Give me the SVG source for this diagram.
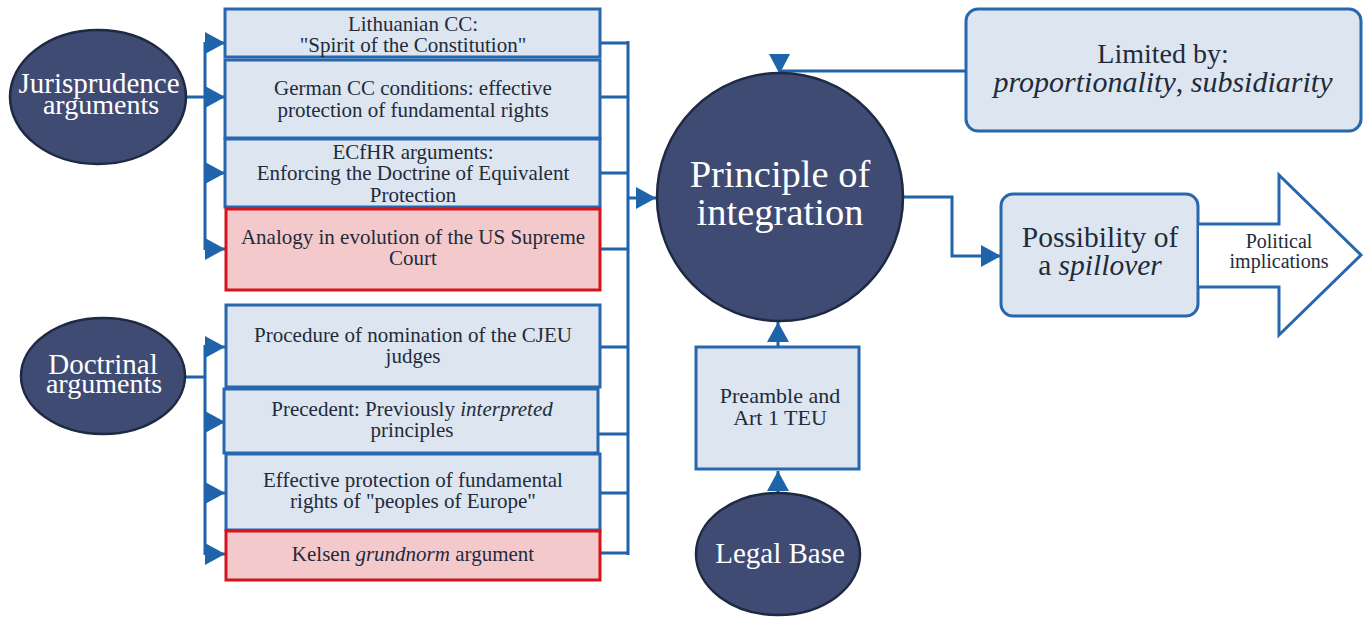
<svg xmlns="http://www.w3.org/2000/svg" width="1367" height="617" viewBox="0 0 1367 617">
<defs>
<style>
.box{fill:#DDE5F0;stroke:#2767AE;stroke-width:3}
.red{fill:#F4C9CB;stroke:#D3141C;stroke-width:3}
.dark{fill:#404B73;stroke:#1E2943;stroke-width:2.5}
.t{font-family:'Liberation Serif','Times New Roman',Times,serif;fill:#222B3A;text-anchor:middle}
.w{font-family:'Liberation Serif','Times New Roman',Times,serif;fill:#FFFFFF;text-anchor:middle}
.b{font-size:21px}
.c{fill:none;stroke:#1F63AB;stroke-width:3}
.ah{fill:#1F63AB}
</style>
<marker id="arr" viewBox="0 0 20 22" refX="20" refY="11" markerWidth="20" markerHeight="22" markerUnits="userSpaceOnUse" orient="auto">
<path d="M0,0 L20,11 L0,22 Z" fill="#1F63AB"/>
</marker>
</defs>
<rect width="1367" height="617" fill="#FFFFFF"/>

<g id="connectors">
<path class="c" d="M186,97 H205 M205,42 V250"/>
<path class="c" d="M205,43 H225" marker-end="url(#arr)"/>
<path class="c" d="M205,97 H225" marker-end="url(#arr)"/>
<path class="c" d="M205,173 H225" marker-end="url(#arr)"/>
<path class="c" d="M205,249 H225" marker-end="url(#arr)"/>
<path class="c" d="M185,377 H205 M205,345 V555"/>
<path class="c" d="M205,347 H225" marker-end="url(#arr)"/>
<path class="c" d="M205,422 H225" marker-end="url(#arr)"/>
<path class="c" d="M205,493 H225" marker-end="url(#arr)"/>
<path class="c" d="M205,554 H225" marker-end="url(#arr)"/>
<path class="c" d="M600,43 H628 M600,97 H628 M600,173 H628 M600,249 H628 M600,347 H628 M598,434 H628 M600,493 H628 M600,553 H628 M628,41 V555"/>
<path class="c" d="M628,198 H656" marker-end="url(#arr)"/>
<path class="c" d="M966,71 H780"/>
<path class="ah" d="M769,54 L790,54 L779.5,74 Z"/>
<path class="c" d="M903,197 H952 V256 H1001" marker-end="url(#arr)"/>
<path class="c" d="M778,347 V322" marker-end="url(#arr)"/>
<path class="c" d="M778,493 V471" marker-end="url(#arr)"/>
</g>

<g id="jurisprudence">
<ellipse class="dark" cx="98" cy="97" rx="88" ry="67"/>
<text class="w" x="99" y="93" font-size="29">Jurisprudence</text>
<text class="w" x="101" y="114" font-size="28">arguments</text>
</g>

<g id="doctrinal">
<ellipse class="dark" cx="103" cy="376" rx="82" ry="58"/>
<text class="w" x="103" y="374" font-size="29">Doctrinal</text>
<text class="w" x="104" y="393" font-size="28">arguments</text>
</g>

<g id="box1">
<rect class="box" x="225" y="9" width="375" height="48"/>
<text class="t b" x="413" y="31">Lithuanian CC:</text>
<text class="t b" x="413" y="52">"Spirit of the Constitution"</text>
</g>
<g id="box2">
<rect class="box" x="225" y="60" width="375" height="78"/>
<text class="t b" x="413" y="95">German CC conditions: effective</text>
<text class="t b" x="413" y="117">protection of fundamental rights</text>
</g>
<g id="box3">
<rect class="box" x="225" y="139" width="375" height="68"/>
<text class="t b" x="413" y="159">ECfHR arguments:</text>
<text class="t b" x="413" y="180">Enforcing the Doctrine of Equivalent</text>
<text class="t b" x="413" y="202">Protection</text>
</g>
<g id="box4">
<rect class="red" x="226" y="209" width="374" height="81"/>
<text class="t b" x="413" y="244">Analogy in evolution of the US Supreme</text>
<text class="t b" x="413" y="265">Court</text>
</g>

<g id="box5">
<rect class="box" x="226" y="305" width="374" height="82"/>
<text class="t b" x="413" y="342">Procedure of nomination of the CJEU</text>
<text class="t b" x="413" y="363">judges</text>
</g>
<g id="box6">
<rect class="box" x="224" y="389" width="374" height="64"/>
<text class="t b" x="412" y="416">Precedent: Previously <tspan font-style="italic">interpreted</tspan></text>
<text class="t b" x="412" y="437">principles</text>
</g>
<g id="box7">
<rect class="box" x="226" y="454" width="374" height="76"/>
<text class="t b" x="413" y="487">Effective protection of fundamental</text>
<text class="t b" x="413" y="508">rights of "peoples of Europe"</text>
</g>
<g id="box8">
<rect class="red" x="226" y="531" width="374" height="49"/>
<text class="t b" x="413" y="561">Kelsen <tspan font-style="italic">grundnorm</tspan> argument</text>
</g>

<g id="principle">
<ellipse class="dark" cx="780" cy="197" rx="123" ry="124"/>
<text class="w" x="780" y="187" font-size="38.5">Principle of</text>
<text class="w" x="780" y="225" font-size="38.5">integration</text>
</g>

<g id="limited">
<rect class="box" x="966" y="9" width="395" height="122" rx="12"/>
<text class="t" x="1163" y="63" font-size="28">Limited by:</text>
<text class="t" x="1163" y="92" font-size="30"><tspan font-style="italic">proportionality</tspan>, <tspan font-style="italic">subsidiarity</tspan></text>
</g>

<g id="spillover">
<rect class="box" x="1001" y="194" width="197" height="122" rx="12"/>
<text class="t" x="1100" y="247" font-size="29.5">Possibility of</text>
<text class="t" x="1100" y="275" font-size="29.5">a <tspan font-style="italic">spillover</tspan></text>
</g>

<g id="political">
<path d="M1199,224 H1279 V175 L1361,255 L1279,335 V287 H1199" fill="#FFFFFF" stroke="#2767AE" stroke-width="3"/>
<text class="t" x="1279" y="248" font-size="20">Political</text>
<text class="t" x="1279" y="268" font-size="20">implications</text>
</g>

<g id="preamble">
<rect class="box" x="696" y="347" width="163" height="122"/>
<text class="t" x="780" y="403" font-size="22">Preamble and</text>
<text class="t" x="780" y="425" font-size="22">Art 1 TEU</text>
</g>

<g id="legalbase">
<ellipse class="dark" cx="778" cy="554" rx="82" ry="61"/>
<text class="w" x="780" y="563" font-size="29">Legal Base</text>
</g>
</svg>
